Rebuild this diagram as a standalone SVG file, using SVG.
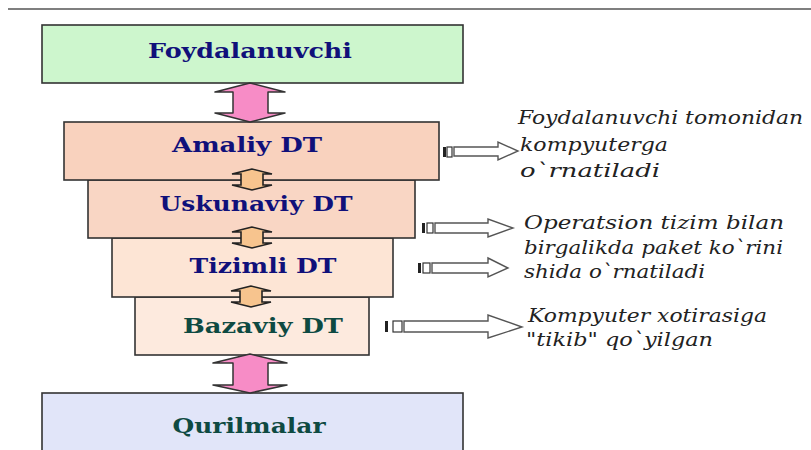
<svg xmlns="http://www.w3.org/2000/svg" width="811" height="450" viewBox="0 0 811 450">
<style>
.box{stroke:#333;stroke-width:1.6}
.lbl{font-family:"DejaVu Serif","Liberation Serif","Times New Roman",serif;font-weight:bold;font-size:21px;text-anchor:middle}
.navy{fill:#10107a}
.teal{fill:#0e4a42}
.note{font-family:"DejaVu Serif","Liberation Serif","Times New Roman",serif;font-style:italic;font-size:18px;fill:#222}
.pink{fill:#f78cc6;stroke:#333;stroke-width:1.5;stroke-linejoin:round}
.orange{fill:#f7c48e;stroke:#222;stroke-width:1.6}
.hollow{fill:#fff;stroke:#555;stroke-width:1.4;stroke-linejoin:miter}
.bar{fill:#222}
.sq{fill:#fff;stroke:#333;stroke-width:1.2}
</style>
<rect width="811" height="450" fill="#fff"/>
<line x1="8" y1="9" x2="811" y2="9" stroke="#555" stroke-width="1.5"/>

<g id="foydalanuvchi">
<rect class="box" x="42" y="25" width="421" height="58" fill="#cdf6cd"/>
<text class="lbl navy" x="250" y="58" textLength="204" lengthAdjust="spacingAndGlyphs">Foydalanuvchi</text>
</g>

<g id="qurilmalar">
<rect class="box" x="42" y="393" width="421" height="70" fill="#e1e5f9"/>
<text class="lbl teal" x="249" y="433" textLength="153" lengthAdjust="spacingAndGlyphs">Qurilmalar</text>
</g>

<g id="bazaviy">
<rect class="box" x="135" y="297" width="234" height="58" fill="#fdeade"/>
<text class="lbl teal" x="263" y="333" textLength="160" lengthAdjust="spacingAndGlyphs">Bazaviy DT</text>
</g>

<g id="tizimli">
<rect class="box" x="112" y="238" width="281" height="59" fill="#fde5d5"/>
<text class="lbl navy" x="263" y="273" textLength="147" lengthAdjust="spacingAndGlyphs">Tizimli DT</text>
</g>

<g id="uskunaviy">
<rect class="box" x="88" y="180" width="327" height="58" fill="#f9d6c4"/>
<text class="lbl navy" x="256" y="211" textLength="193" lengthAdjust="spacingAndGlyphs">Uskunaviy DT</text>
</g>

<g id="amaliy">
<rect class="box" x="64" y="122" width="375" height="58" fill="#f9d2be"/>
<text class="lbl navy" x="247" y="152" textLength="150" lengthAdjust="spacingAndGlyphs">Amaliy DT</text>
</g>

<g id="connectors">
<path class="pink" d="M250,83 L215,92 L233,92 L233,113 L215,113 L250,122 L285,113 L268,113 L268,92 L285,92 Z"/>
<path class="pink" d="M250,354 L213,363 L233,363 L233,385 L213,385 L250,393 L287,385 L268,385 L268,363 L287,363 Z"/>
<path class="orange" d="M252,169 L232,174 L241,174 L241,185 L232,185 L252,190 L272,185 L263,185 L263,174 L272,174 Z"/>
<path class="orange" d="M252,227 L232,232 L241,232 L241,243 L232,243 L252,248 L272,243 L263,243 L263,232 L272,232 Z"/>
<path class="orange" d="M251,286 L231,291 L240,291 L240,302 L231,302 L251,307 L271,302 L262,302 L262,291 L271,291 Z"/>

<rect class="bar" x="443" y="147" width="3" height="10"/>
<rect class="sq" x="447" y="147" width="5" height="10"/>
<path class="hollow" d="M454,147 L498,147 L498,142 L518,151 L498,160 L498,156 L454,156 Z"/>

<rect class="bar" x="422" y="223" width="3" height="10"/>
<rect class="sq" x="427" y="223" width="6" height="10"/>
<path class="hollow" d="M435,223 L488,223 L488,219 L513,228 L488,237 L488,233 L435,233 Z"/>

<rect class="bar" x="418" y="263" width="3" height="10"/>
<rect class="sq" x="423" y="263" width="7" height="10"/>
<path class="hollow" d="M432,263 L488,263 L488,258 L508,268 L488,277 L488,273 L432,273 Z"/>

<rect class="bar" x="385" y="321" width="3" height="11"/>
<rect class="sq" x="393" y="321" width="9" height="11"/>
<path class="hollow" d="M404,321 L488,321 L488,315 L522,327 L488,338 L488,332 L404,332 Z"/>
</g>

<g id="notes">
<text class="note" x="518" y="124" textLength="285" lengthAdjust="spacingAndGlyphs">Foydalanuvchi tomonidan</text>
<text class="note" x="520" y="151" textLength="148" lengthAdjust="spacingAndGlyphs">kompyuterga</text>
<text class="note" x="520" y="177" textLength="140" lengthAdjust="spacingAndGlyphs">o`rnatiladi</text>
<text class="note" x="524" y="229" textLength="260" lengthAdjust="spacingAndGlyphs">Operatsion tizim bilan</text>
<text class="note" x="524" y="254" textLength="259" lengthAdjust="spacingAndGlyphs">birgalikda paket ko`rini</text>
<text class="note" x="524" y="278" textLength="181" lengthAdjust="spacingAndGlyphs">shida o`rnatiladi</text>
<text class="note" x="528" y="322" textLength="239" lengthAdjust="spacingAndGlyphs">Kompyuter xotirasiga</text>
<text class="note" x="526" y="346" textLength="187" lengthAdjust="spacingAndGlyphs">"tikib" qo`yilgan</text>
</g>
</svg>
